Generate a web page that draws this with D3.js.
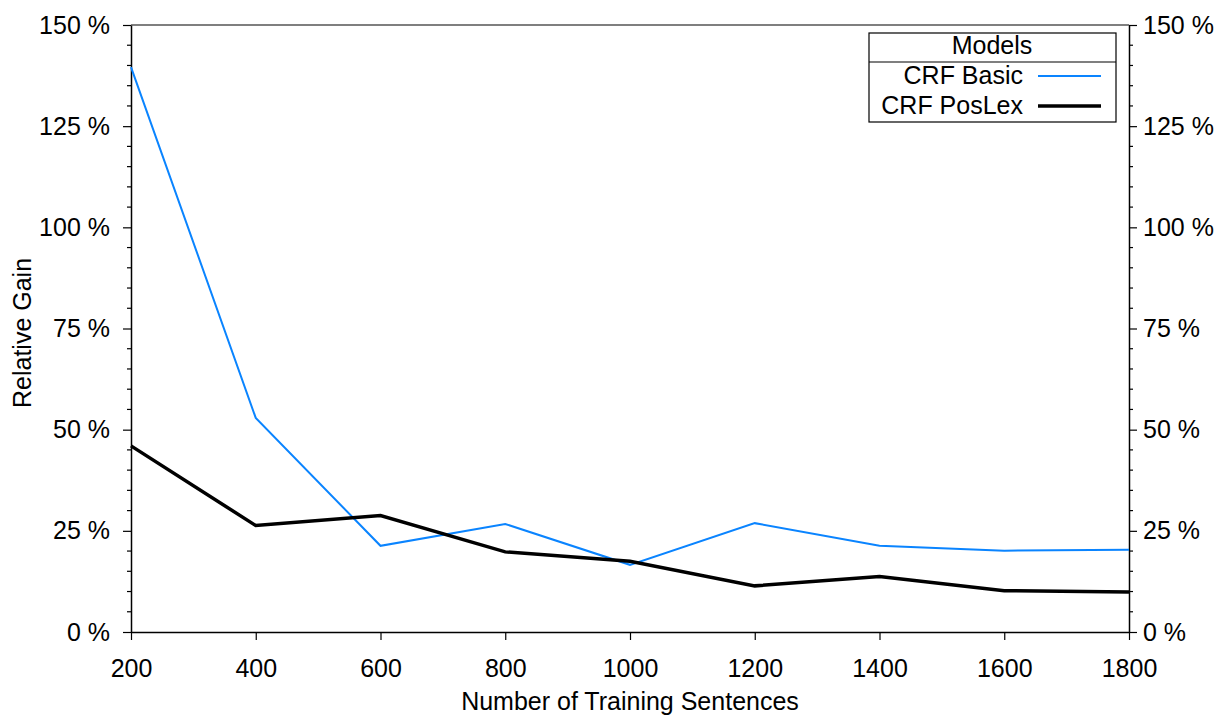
<!DOCTYPE html>
<html><head><meta charset="utf-8">
<script src="https://cdn.jsdelivr.net/npm/d3@7"></script>
<style>body{margin:0;background:#fff}svg{display:block}text{font-family:"Liberation Sans",Arial,sans-serif;fill:#000}</style>
</head><body><svg id="c" width="1221" height="715"></svg>
<script>
const sentences = [200,400,600,800,1000,1200,1400,1600,1800];
const crfBasic = [139.6,52.9,21.3,26.7,16.6,26.9,21.3,20.1,20.3];
const crfPosLex = [46.0,26.3,28.8,19.8,17.5,11.4,13.7,10.2,9.9];
const seriesNames = ["CRF Basic","CRF PosLex"];
const yTicks = [0,25,50,75,100,125,150];
const xTicks = [200,400,600,800,1000,1200,1400,1600,1800];

const svg = d3.select("#c");
const L=131,R=1129,T=25,B=632;
const x = d3.scaleLinear().domain([200,1800]).range([L,R]);
const y = d3.scaleLinear().domain([0,150]).range([B,T]);
const fs = 25;
const ff = "Liberation Sans, Arial, sans-serif";

// frame
svg.append("line").attr("x1",L).attr("x2",R).attr("y1",T).attr("y2",T).attr("stroke","#000").attr("stroke-width",1.2);

const minor = d3.range(0,151,5).filter(v=>v%25!==0);
function yAxis(g, axisFn, side, pad){
  g.call(axisFn(y).tickValues(yTicks).tickFormat(d=>d+" %").tickSize(8).tickPadding(pad).tickSizeOuter(0));
  g.selectAll(".tick line").attr("stroke-width",1.2);
  g.select(".domain").attr("stroke-width",1.5);
  g.selectAll("text").attr("font-size",fs).attr("font-family",ff);
  g.selectAll(".minor").data(minor).enter().append("line").attr("class","minor")
    .attr("x1",0).attr("x2",side*4).attr("y1",d=>y(d)).attr("y2",d=>y(d)).attr("stroke","#000").attr("stroke-width",1.2);
}
svg.append("g").attr("transform",`translate(${L},0)`).call(g=>yAxis(g,d3.axisLeft,-1,13));
svg.append("g").attr("transform",`translate(${R},0)`).call(g=>yAxis(g,d3.axisRight,1,6));

const gx = svg.append("g").attr("transform",`translate(0,${B})`)
  .call(d3.axisBottom(x).tickValues(xTicks).tickFormat(d3.format("d")).tickSize(8).tickPadding(19).tickSizeOuter(0));
gx.selectAll(".tick line").attr("stroke-width",1.2);
gx.select(".domain").attr("stroke-width",1.5);
gx.selectAll("text").attr("font-size",fs).attr("font-family",ff);

svg.append("text").attr("x",630).attr("y",710).attr("text-anchor","middle").attr("font-size",fs).text("Number of Training Sentences");
svg.append("text").attr("transform","translate(31,333) rotate(-90)").attr("text-anchor","middle").attr("font-size",fs).text("Relative Gain");

const line = d3.line().x((d,i)=>x(sentences[i])).y(d=>y(d));
svg.append("path").datum(crfBasic).attr("d",line).attr("fill","none").attr("stroke","#0a84ff").attr("stroke-width",2);
svg.append("path").datum(crfPosLex).attr("d",line).attr("fill","none").attr("stroke","#000").attr("stroke-width",3.5).attr("stroke-linejoin","miter");

// legend
const lg = svg.append("g");
lg.append("rect").attr("x",869).attr("y",33).attr("width",247).attr("height",89).attr("fill","#fff").attr("stroke","#000").attr("stroke-width",1.2);
lg.append("line").attr("x1",869).attr("x2",1116).attr("y1",62).attr("y2",62).attr("stroke","#000").attr("stroke-width",1.2);
lg.append("text").attr("x",992).attr("y",54).attr("text-anchor","middle").attr("font-size",fs).text("Models");
const colors=["#0a84ff","#000"], widths=[2,3.5];
seriesNames.forEach((n,i)=>{
  const yy = 76+i*30;
  lg.append("text").attr("x",1023).attr("y",yy+8).attr("text-anchor","end").attr("font-size",fs).text(n);
  lg.append("line").attr("x1",1038).attr("x2",1101).attr("y1",yy).attr("y2",yy).attr("stroke",colors[i]).attr("stroke-width",widths[i]);
});
</script></body></html>
